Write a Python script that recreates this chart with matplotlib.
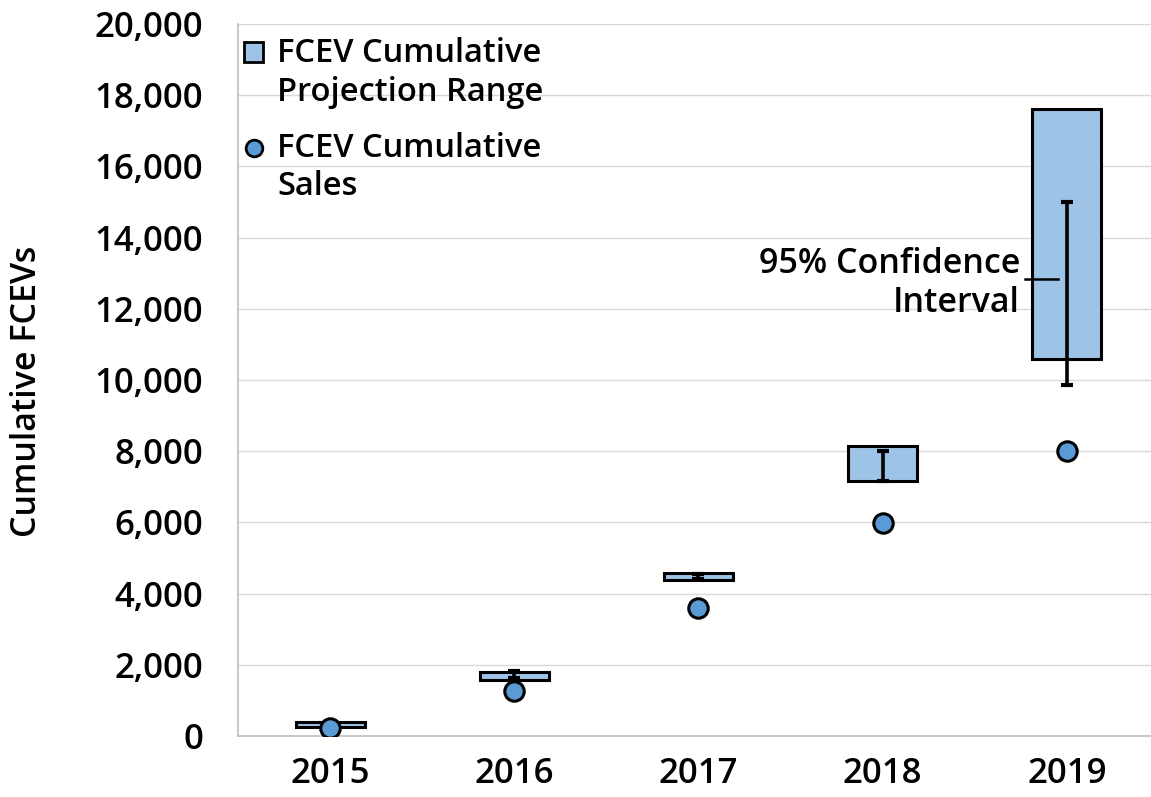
import matplotlib.pyplot as plt
from matplotlib.patches import Rectangle
import numpy as np

plt.rcParams['font.family'] = ['Open Sans', 'DejaVu Sans']
plt.rcParams['font.weight'] = 'semibold'
plt.rcParams['axes.labelweight'] = 'semibold'

years = ['2015', '2016', '2017', '2018', '2019']
# projection range (low/high) per year
proj_low = [250, 1580, 4370, 7160, 10600]
proj_high = [390, 1810, 4570, 8150, 17600]
# 95% confidence interval
ci_low = [290, 1620, 4400, 7150, 9850]
ci_high = [350, 1830, 4550, 8000, 15000]
# actual cumulative sales
sales = [220, 1260, 3600, 5980, 8000]

legend_lines = [['FCEV Cumulative', 'Projection Range'],
                ['FCEV Cumulative', 'Sales']]

box_color = '#9DC3E6'
dot_color = '#5B9BD5'
W, H = 1151, 797

fig = plt.figure(figsize=(W / 100, H / 100), dpi=100)
ax = fig.add_axes([238 / W, 1 - 736 / H, 921 / W, 712 / H])

def px(x, y):
    # pixel position in the picture -> axes fraction
    return (x - 238) / 921, (736 - y) / 712

x = np.arange(len(years))
lo = np.array(proj_low)
hi = np.array(proj_high)
ax.bar(x, hi - lo, bottom=lo, width=0.375, color=box_color,
       edgecolor='black', linewidth=2.2, zorder=3)

cl = np.array(ci_low)
ch = np.array(ci_high)
mid = (cl + ch) / 2
ax.errorbar(x, mid, yerr=[mid - cl, ch - mid], fmt='none', ecolor='black',
            elinewidth=2.6, capsize=4, capthick=3, zorder=4)

ax.plot(x, sales, 'o', color=dot_color, markeredgecolor='black',
        markersize=14, markeredgewidth=2.2, zorder=5)

# annotation for confidence interval
ax.plot([3.77, 3.95], [12840, 12840], color='black', lw=1.8, zorder=4)
ax.text(3.745, 12720, '95% Confidence\nInterval', ha='right', va='center',
        fontsize=24.5, linespacing=1.2)

ax.set_xlim(-0.5, 4.5)
ax.set_ylim(0, 20000)
ax.set_yticks(np.arange(0, 20001, 2000))
ax.set_yticklabels([f'{v:,}' for v in range(0, 20001, 2000)])
ax.set_xticks(x)
ax.set_xticklabels(years)
ax.tick_params(length=0, labelsize=25)
ax.tick_params(axis='y', pad=25)
ax.tick_params(axis='x', pad=15)

ax.grid(axis='y', color='#D9D9D9', lw=1)
ax.set_axisbelow(True)
for s in ['top', 'right']:
    ax.spines[s].set_visible(False)
for s in ['left', 'bottom']:
    ax.spines[s].set_color('#BFBFBF')
    ax.spines[s].set_linewidth(1.2)

ax.set_ylabel('Cumulative FCEVs', fontsize=24.5)
ax.yaxis.set_label_coords(-0.2106, 0.4846)

# legend, handle on the first line of each entry
x0, y0 = px(244, 62)
x1, y1 = px(263, 42)
ax.add_patch(Rectangle((x0, y0), x1 - x0, y1 - y0, transform=ax.transAxes,
                       facecolor=box_color, edgecolor='black', lw=2,
                       clip_on=False, zorder=6))
cx, cy = px(254, 148)
ax.plot([cx], [cy], 'o', transform=ax.transAxes, color=dot_color,
        markeredgecolor='black', markersize=12, markeredgewidth=2,
        clip_on=False, zorder=6)
baselines = [[62, 101], [157, 195]]
for entry, bl in zip(legend_lines, baselines):
    for line, b in zip(entry, bl):
        tx, ty = px(277, b)
        ax.text(tx, ty, line, transform=ax.transAxes, fontsize=23.5,
                va='baseline', ha='left')

fig.savefig('out.png', dpi=100)
